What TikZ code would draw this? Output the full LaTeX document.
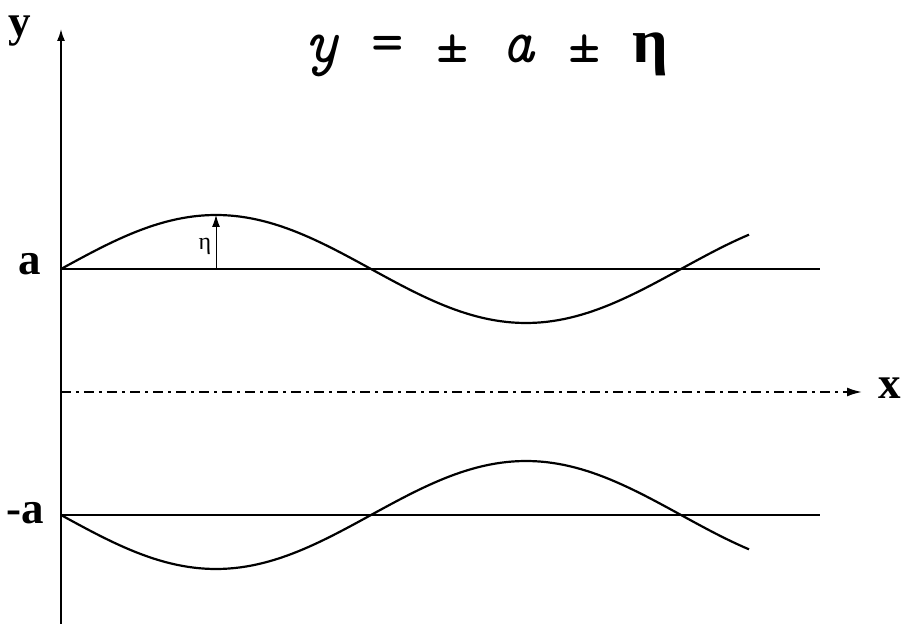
\documentclass[tikz,border=0pt]{standalone}
\usepackage{fontspec}
\setmainfont{Liberation Serif}
\usetikzlibrary{arrows.meta}

\begin{document}
\begin{tikzpicture}[x=1pt,y=1pt,
		axislbl/.style={font=\fontsize{45}{45}\selectfont\bfseries},
		baseline/.style={line width=1.5pt},
		wave/.style={line width=2.2pt,line join=round},
		dashdot/.style={line width=2pt,dash pattern=on 10pt off 5pt on 3pt off 5pt}]
		\useasboundingbox (-61,-232) rectangle (845,392);
		\coordinate (ybot) at (0,-232);
		\coordinate (ytop) at (0,363);
		\coordinate (O) at (0,0);
		\coordinate (xend) at (801,0);
		\coordinate (aL) at (0,123);
		\coordinate (aR) at (759,123);
		\coordinate (maL) at (0,-123);
		\coordinate (maR) at (759,-123);
		\coordinate (etaB) at (155,123);
		\coordinate (etaT) at (155,177);

	    \draw[line width=1.7pt,-{Latex[length=12pt,width=8pt]}] (ybot) -- (ytop);
	    \draw[dashdot,-{Latex[length=15pt,width=9pt]}] (O) -- (xend);
	    \draw[baseline] (aL) -- (aR);
	    \draw[baseline] (maL) -- (maR);

	    \draw[wave] plot[domain=0:688,samples=120] (\x,{123+54*sin(\x/620*360)});
	    \draw[wave] plot[domain=0:688,samples=120] (\x,{-123-54*sin(\x/620*360)});

	    \draw[line width=1pt,-{Latex[length=12pt,width=8pt]}] (etaB) -- (etaT);

		\node[axislbl] (ylbl) at (-41,361) {y};
		\node[axislbl] (xlbl) at (829,4) {x};
		\node[axislbl] (albl) at (-31,128) {a};
		\node[axislbl] (malbl) at (-36,-121) {-a};
		\node[font=\fontsize{24}{24}\selectfont] (etalbl) at (144,146) {η};
		\node[anchor=base west,inner sep=0pt,font=\ttfamily\fontsize{63}{63}\selectfont] (eqn) at (244,329)
			{\textit{y} = ± \textit{a} ± {\rmfamily\bfseries η}};
\end{tikzpicture}
\end{document}
